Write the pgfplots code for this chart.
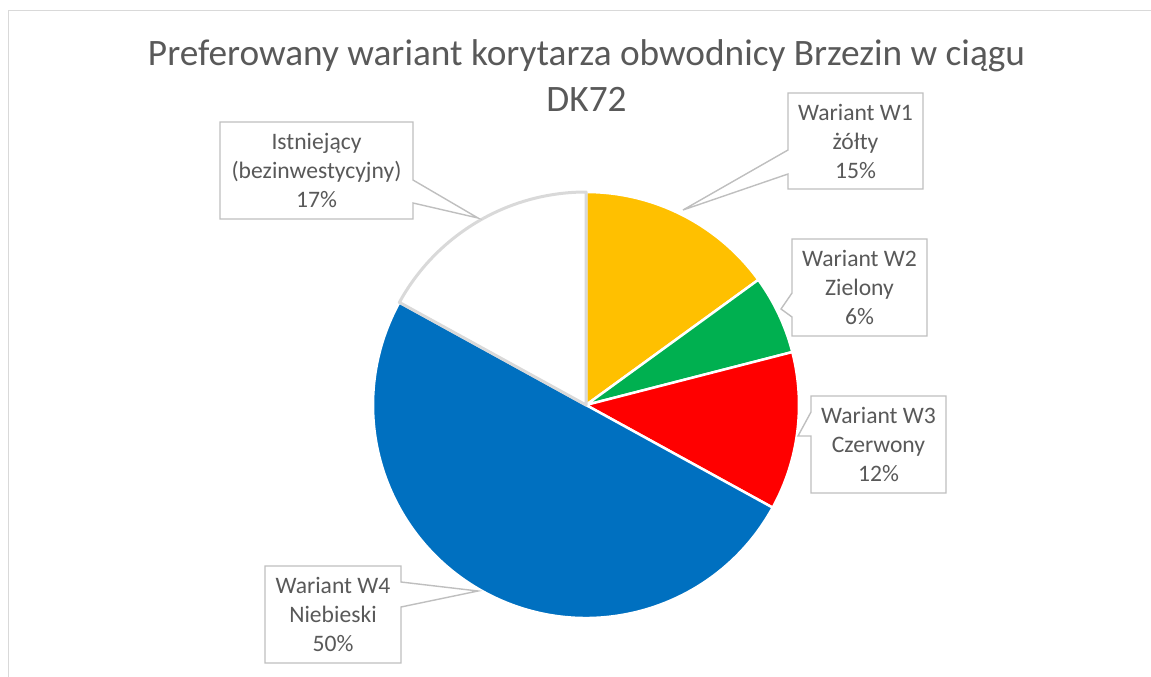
\documentclass[border=0pt]{standalone}
\usepackage{fontspec}
\setmainfont{Carlito}
\usepackage{pgfplots}
\usepackage{pgfplotstable}
\pgfplotsset{compat=1.18}
\definecolor{txt}{HTML}{595959}
\definecolor{boxgray}{HTML}{BFBFBF}
\definecolor{framegray}{HTML}{D9D9D9}
\definecolor{slice0}{HTML}{FFC000}
\definecolor{slice1}{HTML}{00B050}
\definecolor{slice2}{HTML}{FF0000}
\definecolor{slice3}{HTML}{0070C0}
\definecolor{slice4}{HTML}{FFFFFF}

% share of answers, clockwise from 12 o'clock
\pgfplotstableread{
name value
W1 15
W2 6
W3 12
W4 50
Ist 17
}\piedata

\tikzset{
 callout/.style={draw=boxgray,fill=white,line width=1.4pt,line join=miter},
 lab/.style={text=txt,align=center,font=\fontsize{23.6}{29}\selectfont,inner sep=0pt}
}

\begin{document}
\begin{tikzpicture}
% cumulative angles of the slices
\def\cum{90}
\pgfplotsforeachungrouped \i in {0,...,4}{%
  \pgfplotstablegetelem{\i}{value}\of\piedata
  \pgfmathsetmacro{\endang}{\cum-3.6*\pgfplotsretval}%
  \expandafter\edef\csname a\i\endcsname{\cum}%
  \expandafter\edef\csname b\i\endcsname{\endang}%
  \let\cum\endang
}
\begin{axis}[
 width=1151pt,height=677pt,scale only axis,
 xmin=0,xmax=1151,ymin=0,ymax=677,y dir=reverse,
 hide axis,clip=false
]
\coordinate (ll) at (axis cs:0,677);
\coordinate (ur) at (axis cs:1151,0);
% chart frame
\draw[framegray,line width=1pt] (axis cs:8,677) -- (axis cs:8,11) -- (axis cs:1151,11);

% slices
\pgfplotsinvokeforeach{0,...,3}{
 \filldraw[fill=slice#1,draw=white,line width=2.5pt,line join=round]
   (axis cs:586,405) -- ++(\csname a#1\endcsname:213pt)
   arc[start angle=\csname a#1\endcsname,end angle=\csname b#1\endcsname,radius=213pt] -- cycle;
}
\filldraw[fill=slice4,draw=framegray,line width=3pt,line join=round]
   (axis cs:586,405) -- ++(\csname a4\endcsname:213pt)
   arc[start angle=\csname a4\endcsname,end angle=\csname b4\endcsname,radius=213pt] -- cycle;

% callouts
\draw[callout] (axis cs:220,122) -- (axis cs:413,122) -- (axis cs:413,180) -- (axis cs:478,218)
  -- (axis cs:413,203) -- (axis cs:413,219) -- (axis cs:220,219) -- cycle;
\draw[callout] (axis cs:788,93) -- (axis cs:923,93) -- (axis cs:923,189) -- (axis cs:788,189)
  -- (axis cs:788,174) -- (axis cs:683,210) -- (axis cs:788,150) -- cycle;
\draw[callout] (axis cs:792,239) -- (axis cs:927,239) -- (axis cs:927,336) -- (axis cs:792,336)
  -- (axis cs:792,317) -- (axis cs:781,309) -- (axis cs:792,293) -- cycle;
\draw[callout] (axis cs:811,396) -- (axis cs:946,396) -- (axis cs:946,493) -- (axis cs:811,493)
  -- (axis cs:811,436) -- (axis cs:798,436) -- (axis cs:811,412) -- cycle;
\draw[callout] (axis cs:265,566) -- (axis cs:401,566) -- (axis cs:401,582) -- (axis cs:478,591)
  -- (axis cs:401,607) -- (axis cs:401,663) -- (axis cs:265,663) -- cycle;

\node[lab] at (axis cs:316.5,170.5) {Istniejący\\(bezinwestycyjny)\\17\%};
\node[lab] at (axis cs:855.5,141) {Wariant W1\\żółty\\15\%};
\node[lab] at (axis cs:859.5,287.5) {Wariant W2\\Zielony\\6\%};
\node[lab] at (axis cs:878.5,444.5) {Wariant W3\\Czerwony\\12\%};
\node[lab] at (axis cs:333,614.5) {Wariant W4\\Niebieski\\50\%};

% title
\node[text=txt,align=center,font=\fontsize{37.3}{46}\selectfont,inner sep=0pt,anchor=base]
  at (axis cs:586.5,111) {Preferowany wariant korytarza obwodnicy Brzezin w ciągu\\DK72};
\end{axis}
\pgfresetboundingbox
\path[use as bounding box] (ll) rectangle (ur);
\end{tikzpicture}
\end{document}
